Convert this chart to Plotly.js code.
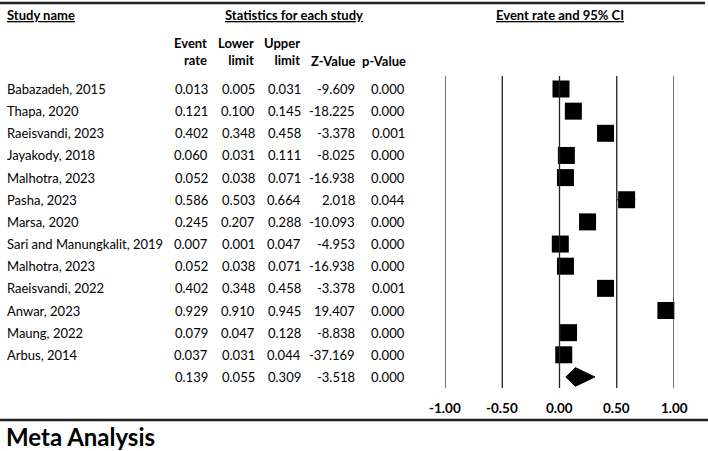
<!DOCTYPE html>
<html>
<head>
<meta charset="utf-8">
<script src="https://cdn.plot.ly/plotly-3.0.1.min.js"></script>
<style>html,body{margin:0;padding:0;background:#fff;}#chart{width:708px;height:451px;}</style>
</head>
<body>
<div id="chart"></div>
<script>
// ---- data ----
const studyNames = ["Babazadeh, 2015","Thapa, 2020","Raeisvandi, 2023","Jayakody, 2018","Malhotra, 2023","Pasha, 2023","Marsa, 2020","Sari and Manungkalit, 2019","Malhotra, 2023","Raeisvandi, 2022","Anwar, 2023","Maung, 2022","Arbus, 2014"];
const eventRate = [0.013,0.121,0.402,0.060,0.052,0.586,0.245,0.007,0.052,0.402,0.929,0.079,0.037];
const lowerLimit = [0.005,0.100,0.348,0.031,0.038,0.503,0.207,0.001,0.038,0.348,0.910,0.047,0.031];
const upperLimit = [0.031,0.145,0.458,0.111,0.071,0.664,0.288,0.047,0.071,0.458,0.945,0.128,0.044];
const zValue = [-9.609,-18.225,-3.378,-8.025,-16.938,2.018,-10.093,-4.953,-16.938,-3.378,19.407,-8.838,-37.169];
const pValue = [0.000,0.000,0.001,0.000,0.000,0.044,0.000,0.000,0.000,0.001,0.000,0.000,0.000];
const summaryRate = 0.139, summaryLower = 0.055, summaryUpper = 0.309, summaryZ = -3.518, summaryP = 0.000;
const tickVals = [-1, -0.5, 0, 0.5, 1];
const tickText = ["-1.00","-0.50","0.00","0.50","1.00"];

// ---- layout helpers ----
const W = 708, H = 451;
const FONT = "Lato, 'Open Sans', sans-serif";
const INK = "#000";
const rowTop = 89, rowStep = 22.15;
const yTopIdx = (0 - rowTop) / rowStep, yBotIdx = (H - rowTop) / rowStep;
const pxToRow = py => (py - rowTop) / rowStep;
const px = x => x / W;
const py = y => 1 - y / H;

const rows = studyNames.map((_, i) => i);
const sumRow = studyNames.length;

const traces = [
  {
    type: 'scatter', mode: 'markers', x: eventRate, y: rows,
    marker: {symbol: 'square', size: 17, color: '#000'},
    error_x: {type: 'data', symmetric: false,
      array: upperLimit.map((u, i) => u - eventRate[i]),
      arrayminus: lowerLimit.map((l, i) => eventRate[i] - l),
      thickness: 1, width: 0, color: '#000'},
    cliponaxis: false, hoverinfo: 'skip'
  },
  {
    type: 'scatter', mode: 'lines',
    x: [summaryLower, summaryRate, summaryUpper, summaryRate, summaryLower],
    y: [sumRow, sumRow - 0.42, sumRow, sumRow + 0.42, sumRow],
    fill: 'toself', fillcolor: '#000', line: {color: '#000', width: 1},
    cliponaxis: false, hoverinfo: 'skip'
  }
];

const ann = [];
const txt = (text, x, y, xanchor, opts = {}) => ann.push(Object.assign({
  text, x, y, xref: 'paper', yref: 'y', xanchor, yanchor: 'middle', showarrow: false,
  font: {family: FONT, size: 13, color: INK}
}, opts));

const colRight = [210, 257, 303, 357, 407];
const fmt = v => v.toFixed(3);
studyNames.forEach((n, i) => {
  txt(n, px(5), i, 'left');
  [eventRate[i], lowerLimit[i], upperLimit[i], zValue[i], pValue[i]].forEach((v, c) => txt(fmt(v), px(colRight[c]), i, 'right'));
});
[summaryRate, summaryLower, summaryUpper, summaryZ, summaryP].forEach((v, c) => txt(fmt(v), px(colRight[c]), sumRow, 'right'));

// headers
const bold = {family: FONT, size: 13, color: INK};
const hdr = (text, x, y, xanchor, extra = {}) => ann.push(Object.assign({
  text, x: px(x), y: py(y), xref: 'paper', yref: 'paper', xanchor, yanchor: 'middle',
  showarrow: false, font: bold, align: 'right'
}, extra));
hdr('<b><u>Study name</u></b>', 5, 15, 'left');
hdr('<b><u>Statistics for each study</u></b>', 294, 15, 'center');
hdr('<b><u>Event rate and 95% CI</u></b>', 560, 15, 'center');
const subH = ['<b>Event<br>rate</b>', '<b>Lower<br>limit</b>', '<b>Upper<br>limit</b>'];
subH.forEach((t, c) => hdr(t, colRight[c] - 1, 52, 'right'));
hdr('<b>Z-Value</b>', colRight[3], 61, 'right');
hdr('<b>p-Value</b>', colRight[4] + 1, 61, 'right');

// tick labels
tickVals.forEach((v, i) => ann.push({
  text: '<b>' + tickText[i] + '</b>', x: v, y: py(408), xref: 'x', yref: 'paper',
  xanchor: 'center', yanchor: 'middle', showarrow: false, font: {family: FONT, size: 13.5, color: INK}
}));

// title
ann.push({text: '<b>Meta Analysis</b>', x: px(4), y: py(436), xref: 'paper', yref: 'paper',
  xanchor: 'left', yanchor: 'middle', showarrow: false, font: {family: FONT, size: 24, color: INK}});

const shapes = [];
tickVals.forEach(v => shapes.push({type: 'line', xref: 'x', yref: 'y', x0: v, x1: v,
  y0: pxToRow(76), y1: pxToRow(388), line: {color: '#222', width: 1.3}}));
shapes.push({type: 'line', xref: 'paper', yref: 'paper', x0: 0, x1: px(705), y0: py(3), y1: py(3), line: {color: '#222', width: 2.5}});
shapes.push({type: 'line', xref: 'paper', yref: 'paper', x0: 0, x1: 1, y0: py(420), y1: py(420), line: {color: '#222', width: 2.5}});

const layout = {
  width: W, height: H, margin: {l: 0, r: 0, t: 0, b: 0, pad: 0},
  paper_bgcolor: '#fff', plot_bgcolor: '#fff', showlegend: false,
  xaxis: {domain: [445 / W, 674 / W], range: [-1, 1], visible: false, fixedrange: true},
  yaxis: {domain: [0, 1], range: [yBotIdx, yTopIdx], visible: false, fixedrange: true},
  annotations: ann, shapes: shapes
};
Plotly.newPlot('chart', traces, layout, {staticPlot: true, displayModeBar: false});
</script>
</body>
</html>
